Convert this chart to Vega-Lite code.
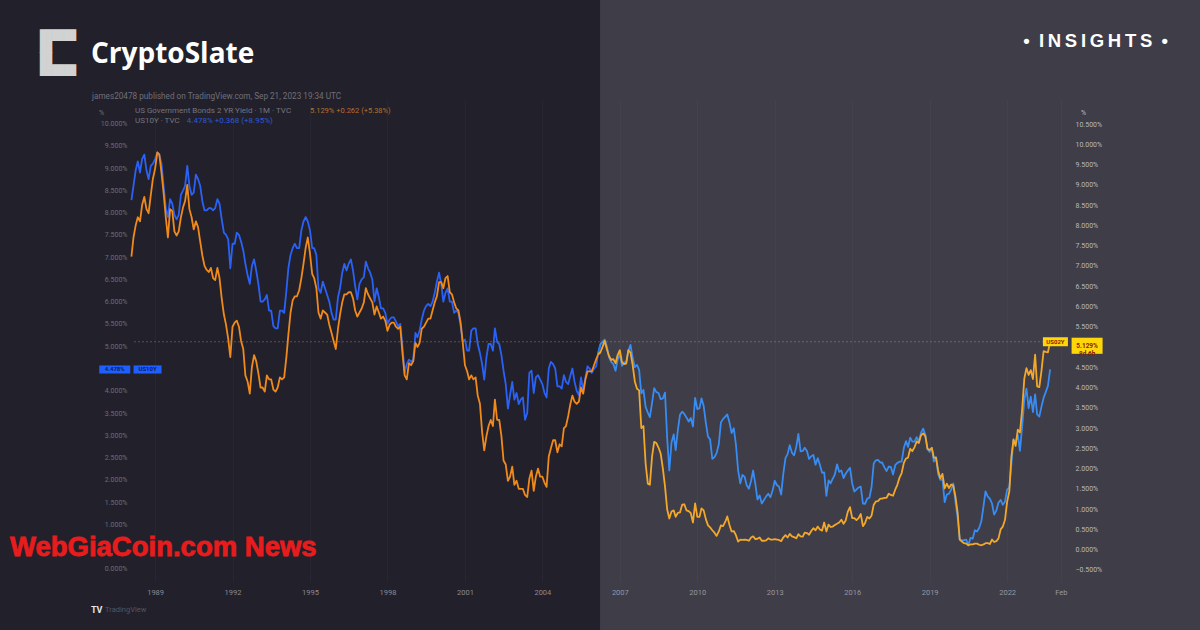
{
"$schema": "https://vega.github.io/schema/vega-lite/v6.json",
"width": 936, "height": 482,
"autosize": {"type": "none"},
"padding": {"left": 132, "top": 100, "right": 132, "bottom": 48},
"background": "#22212b",
"config": {"view": {"stroke": null}, "text": {"font": "Roboto"}},
"data": {"values": [
{"m":"1988-02-01","y10":8.28,"y2":7.23},{"m":"1988-03-01","y10":8.6,"y2":7.7},{"m":"1988-04-01","y10":8.95,"y2":8.0},{"m":"1988-05-01","y10":9.15,"y2":8.2},{"m":"1988-06-01","y10":8.9,"y2":8.1},{"m":"1988-07-01","y10":9.2,"y2":8.5},{"m":"1988-08-01","y10":9.3,"y2":8.7},{"m":"1988-09-01","y10":8.95,"y2":8.4},{"m":"1988-10-01","y10":8.75,"y2":8.3},{"m":"1988-11-01","y10":9.05,"y2":8.75},{"m":"1988-12-01","y10":9.1,"y2":9.15},
{"m":"1989-01-01","y10":9.2,"y2":9.4},{"m":"1989-02-01","y10":9.35,"y2":9.8},{"m":"1989-03-01","y10":9.3,"y2":9.75},{"m":"1989-04-01","y10":9.1,"y2":9.3},{"m":"1989-05-01","y10":8.6,"y2":8.8},{"m":"1989-06-01","y10":8.1,"y2":8.2},{"m":"1989-07-01","y10":7.9,"y2":7.7},{"m":"1989-08-01","y10":8.3,"y2":8.4},{"m":"1989-09-01","y10":8.2,"y2":8.35},{"m":"1989-10-01","y10":7.95,"y2":7.85},{"m":"1989-11-01","y10":7.85,"y2":7.75},{"m":"1989-12-01","y10":7.95,"y2":7.85},
{"m":"1990-01-01","y10":8.4,"y2":8.2},{"m":"1990-02-01","y10":8.5,"y2":8.45},{"m":"1990-03-01","y10":8.6,"y2":8.6},{"m":"1990-04-01","y10":9.05,"y2":9.0},{"m":"1990-05-01","y10":8.6,"y2":8.4},{"m":"1990-06-01","y10":8.4,"y2":8.2},{"m":"1990-07-01","y10":8.45,"y2":7.9},{"m":"1990-08-01","y10":8.85,"y2":8.1},{"m":"1990-09-01","y10":8.75,"y2":7.95},{"m":"1990-10-01","y10":8.6,"y2":7.6},{"m":"1990-11-01","y10":8.25,"y2":7.25},{"m":"1990-12-01","y10":8.05,"y2":7.0},
{"m":"1991-01-01","y10":8.05,"y2":6.9},{"m":"1991-02-01","y10":8.1,"y2":6.85},{"m":"1991-03-01","y10":8.1,"y2":6.95},{"m":"1991-04-01","y10":8.05,"y2":6.7},{"m":"1991-05-01","y10":8.1,"y2":6.65},{"m":"1991-06-01","y10":8.3,"y2":6.95},{"m":"1991-07-01","y10":8.2,"y2":6.7},{"m":"1991-08-01","y10":7.85,"y2":6.2},{"m":"1991-09-01","y10":7.55,"y2":5.8},{"m":"1991-10-01","y10":7.5,"y2":5.55},{"m":"1991-11-01","y10":7.4,"y2":5.2},{"m":"1991-12-01","y10":6.75,"y2":4.75},
{"m":"1992-01-01","y10":7.3,"y2":5.5},{"m":"1992-02-01","y10":7.3,"y2":5.6},{"m":"1992-03-01","y10":7.55,"y2":5.65},{"m":"1992-04-01","y10":7.5,"y2":5.5},{"m":"1992-05-01","y10":7.35,"y2":5.15},{"m":"1992-06-01","y10":7.15,"y2":4.95},{"m":"1992-07-01","y10":6.85,"y2":4.3},{"m":"1992-08-01","y10":6.6,"y2":4.15},{"m":"1992-09-01","y10":6.4,"y2":3.85},{"m":"1992-10-01","y10":6.8,"y2":4.5},{"m":"1992-11-01","y10":6.95,"y2":4.8},{"m":"1992-12-01","y10":6.7,"y2":4.65},
{"m":"1993-01-01","y10":6.4,"y2":4.35},{"m":"1993-02-01","y10":6.0,"y2":4.0},{"m":"1993-03-01","y10":6.0,"y2":4.0},{"m":"1993-04-01","y10":6.05,"y2":3.9},{"m":"1993-05-01","y10":6.15,"y2":4.3},{"m":"1993-06-01","y10":5.8,"y2":4.2},{"m":"1993-07-01","y10":5.8,"y2":4.2},{"m":"1993-08-01","y10":5.45,"y2":3.95},{"m":"1993-09-01","y10":5.4,"y2":3.9},{"m":"1993-10-01","y10":5.4,"y2":4.0},{"m":"1993-11-01","y10":5.8,"y2":4.25},{"m":"1993-12-01","y10":5.8,"y2":4.2},
{"m":"1994-01-01","y10":5.75,"y2":4.25},{"m":"1994-02-01","y10":6.25,"y2":4.75},{"m":"1994-03-01","y10":6.75,"y2":5.3},{"m":"1994-04-01","y10":7.05,"y2":5.85},{"m":"1994-05-01","y10":7.2,"y2":6.15},{"m":"1994-06-01","y10":7.3,"y2":6.25},{"m":"1994-07-01","y10":7.2,"y2":6.25},{"m":"1994-08-01","y10":7.2,"y2":6.4},{"m":"1994-09-01","y10":7.6,"y2":6.7},{"m":"1994-10-01","y10":7.8,"y2":7.05},{"m":"1994-11-01","y10":7.9,"y2":7.45},{"m":"1994-12-01","y10":7.8,"y2":7.7},
{"m":"1995-01-01","y10":7.6,"y2":7.3},{"m":"1995-02-01","y10":7.2,"y2":6.8},{"m":"1995-03-01","y10":7.2,"y2":6.7},{"m":"1995-04-01","y10":7.05,"y2":6.45},{"m":"1995-05-01","y10":6.3,"y2":5.85},{"m":"1995-06-01","y10":6.2,"y2":5.7},{"m":"1995-07-01","y10":6.45,"y2":5.9},{"m":"1995-08-01","y10":6.3,"y2":5.85},{"m":"1995-09-01","y10":6.15,"y2":5.8},{"m":"1995-10-01","y10":6.0,"y2":5.55},{"m":"1995-11-01","y10":5.75,"y2":5.35},{"m":"1995-12-01","y10":5.6,"y2":5.15},
{"m":"1996-01-01","y10":5.6,"y2":4.95},{"m":"1996-02-01","y10":6.1,"y2":5.45},{"m":"1996-03-01","y10":6.3,"y2":5.8},{"m":"1996-04-01","y10":6.65,"y2":6.1},{"m":"1996-05-01","y10":6.85,"y2":6.3},{"m":"1996-06-01","y10":6.7,"y2":6.3},{"m":"1996-07-01","y10":6.85,"y2":6.35},{"m":"1996-08-01","y10":6.95,"y2":6.35},{"m":"1996-09-01","y10":6.7,"y2":6.2},{"m":"1996-10-01","y10":6.35,"y2":5.9},{"m":"1996-11-01","y10":6.05,"y2":5.75},{"m":"1996-12-01","y10":6.4,"y2":5.85},
{"m":"1997-01-01","y10":6.5,"y2":5.95},{"m":"1997-02-01","y10":6.55,"y2":6.1},{"m":"1997-03-01","y10":6.9,"y2":6.45},{"m":"1997-04-01","y10":6.75,"y2":6.3},{"m":"1997-05-01","y10":6.65,"y2":6.2},{"m":"1997-06-01","y10":6.5,"y2":6.1},{"m":"1997-07-01","y10":6.0,"y2":5.8},{"m":"1997-08-01","y10":6.3,"y2":6.0},{"m":"1997-09-01","y10":6.1,"y2":5.85},{"m":"1997-10-01","y10":5.85,"y2":5.7},{"m":"1997-11-01","y10":5.85,"y2":5.75},{"m":"1997-12-01","y10":5.75,"y2":5.65},
{"m":"1998-01-01","y10":5.5,"y2":5.4},{"m":"1998-02-01","y10":5.6,"y2":5.55},{"m":"1998-03-01","y10":5.65,"y2":5.6},{"m":"1998-04-01","y10":5.65,"y2":5.6},{"m":"1998-05-01","y10":5.55,"y2":5.5},{"m":"1998-06-01","y10":5.45,"y2":5.45},{"m":"1998-07-01","y10":5.5,"y2":5.5},{"m":"1998-08-01","y10":5.0,"y2":4.85},{"m":"1998-09-01","y10":4.4,"y2":4.3},{"m":"1998-10-01","y10":4.6,"y2":4.2},{"m":"1998-11-01","y10":4.7,"y2":4.6},{"m":"1998-12-01","y10":4.65,"y2":4.55},
{"m":"1999-01-01","y10":4.7,"y2":4.65},{"m":"1999-02-01","y10":5.3,"y2":5.1},{"m":"1999-03-01","y10":5.2,"y2":5.0},{"m":"1999-04-01","y10":5.35,"y2":5.1},{"m":"1999-05-01","y10":5.6,"y2":5.45},{"m":"1999-06-01","y10":5.8,"y2":5.5},{"m":"1999-07-01","y10":5.9,"y2":5.6},{"m":"1999-08-01","y10":5.95,"y2":5.7},{"m":"1999-09-01","y10":5.9,"y2":5.7},{"m":"1999-10-01","y10":6.0,"y2":5.9},{"m":"1999-11-01","y10":6.2,"y2":6.1},{"m":"1999-12-01","y10":6.45,"y2":6.25},
{"m":"2000-01-01","y10":6.65,"y2":6.6},{"m":"2000-02-01","y10":6.4,"y2":6.6},{"m":"2000-03-01","y10":6.0,"y2":6.45},{"m":"2000-04-01","y10":6.2,"y2":6.7},{"m":"2000-05-01","y10":6.3,"y2":6.75},{"m":"2000-06-01","y10":6.0,"y2":6.35},{"m":"2000-07-01","y10":6.0,"y2":6.3},{"m":"2000-08-01","y10":5.75,"y2":6.1},{"m":"2000-09-01","y10":5.8,"y2":5.95},{"m":"2000-10-01","y10":5.75,"y2":5.9},{"m":"2000-11-01","y10":5.45,"y2":5.6},{"m":"2000-12-01","y10":5.1,"y2":5.1},
{"m":"2001-01-01","y10":5.15,"y2":4.55},{"m":"2001-02-01","y10":4.9,"y2":4.4},{"m":"2001-03-01","y10":4.9,"y2":4.2},{"m":"2001-04-01","y10":5.35,"y2":4.3},{"m":"2001-05-01","y10":5.4,"y2":4.2},{"m":"2001-06-01","y10":5.4,"y2":4.25},{"m":"2001-07-01","y10":5.05,"y2":3.8},{"m":"2001-08-01","y10":4.85,"y2":3.6},{"m":"2001-09-01","y10":4.6,"y2":2.9},{"m":"2001-10-01","y10":4.25,"y2":2.45},{"m":"2001-11-01","y10":4.75,"y2":2.8},{"m":"2001-12-01","y10":5.05,"y2":3.05},
{"m":"2002-01-01","y10":5.05,"y2":3.2},{"m":"2002-02-01","y10":4.9,"y2":3.05},{"m":"2002-03-01","y10":5.4,"y2":3.7},{"m":"2002-04-01","y10":5.1,"y2":3.2},{"m":"2002-05-01","y10":5.05,"y2":3.2},{"m":"2002-06-01","y10":4.8,"y2":2.8},{"m":"2002-07-01","y10":4.45,"y2":2.2},{"m":"2002-08-01","y10":4.15,"y2":2.1},{"m":"2002-09-01","y10":3.6,"y2":1.7},{"m":"2002-10-01","y10":3.9,"y2":1.8},{"m":"2002-11-01","y10":4.2,"y2":2.05},{"m":"2002-12-01","y10":3.8,"y2":1.6},
{"m":"2003-01-01","y10":3.95,"y2":1.7},{"m":"2003-02-01","y10":3.7,"y2":1.5},{"m":"2003-03-01","y10":3.8,"y2":1.5},{"m":"2003-04-01","y10":3.85,"y2":1.5},{"m":"2003-05-01","y10":3.35,"y2":1.35},{"m":"2003-06-01","y10":3.5,"y2":1.3},{"m":"2003-07-01","y10":4.4,"y2":1.75},{"m":"2003-08-01","y10":4.45,"y2":1.95},{"m":"2003-09-01","y10":3.95,"y2":1.45},{"m":"2003-10-01","y10":4.3,"y2":1.8},{"m":"2003-11-01","y10":4.35,"y2":2.0},{"m":"2003-12-01","y10":4.25,"y2":1.8},
{"m":"2004-01-01","y10":4.15,"y2":1.8},{"m":"2004-02-01","y10":3.95,"y2":1.65},{"m":"2004-03-01","y10":3.85,"y2":1.55},{"m":"2004-04-01","y10":4.5,"y2":2.3},{"m":"2004-05-01","y10":4.65,"y2":2.5},{"m":"2004-06-01","y10":4.6,"y2":2.7},{"m":"2004-07-01","y10":4.5,"y2":2.7},{"m":"2004-08-01","y10":4.1,"y2":2.4},{"m":"2004-09-01","y10":4.1,"y2":2.6},{"m":"2004-10-01","y10":4.05,"y2":2.55},{"m":"2004-11-01","y10":4.35,"y2":3.0},{"m":"2004-12-01","y10":4.2,"y2":3.05},
{"m":"2005-01-01","y10":4.15,"y2":3.3},{"m":"2005-02-01","y10":4.35,"y2":3.6},{"m":"2005-03-01","y10":4.5,"y2":3.8},{"m":"2005-04-01","y10":4.2,"y2":3.65},{"m":"2005-05-01","y10":4.0,"y2":3.6},{"m":"2005-06-01","y10":3.9,"y2":3.65},{"m":"2005-07-01","y10":4.3,"y2":4.0},{"m":"2005-08-01","y10":4.0,"y2":3.85},{"m":"2005-09-01","y10":4.3,"y2":4.2},{"m":"2005-10-01","y10":4.55,"y2":4.4},{"m":"2005-11-01","y10":4.5,"y2":4.4},{"m":"2005-12-01","y10":4.4,"y2":4.4},
{"m":"2006-01-01","y10":4.5,"y2":4.55},{"m":"2006-02-01","y10":4.55,"y2":4.7},{"m":"2006-03-01","y10":4.85,"y2":4.82},{"m":"2006-04-01","y10":5.05,"y2":4.87},{"m":"2006-05-01","y10":5.1,"y2":5.0},{"m":"2006-06-01","y10":5.15,"y2":5.15},{"m":"2006-07-01","y10":5.0,"y2":4.95},{"m":"2006-08-01","y10":4.75,"y2":4.78},{"m":"2006-09-01","y10":4.65,"y2":4.68},{"m":"2006-10-01","y10":4.6,"y2":4.7},{"m":"2006-11-01","y10":4.45,"y2":4.6},{"m":"2006-12-01","y10":4.7,"y2":4.8},
{"m":"2007-01-01","y10":4.82,"y2":4.92},{"m":"2007-02-01","y10":4.56,"y2":4.62},{"m":"2007-03-01","y10":4.64,"y2":4.58},{"m":"2007-04-01","y10":4.63,"y2":4.59},{"m":"2007-05-01","y10":4.89,"y2":4.92},{"m":"2007-06-01","y10":5.03,"y2":4.86},{"m":"2007-07-01","y10":4.74,"y2":4.56},{"m":"2007-08-01","y10":4.53,"y2":4.15},{"m":"2007-09-01","y10":4.58,"y2":3.97},{"m":"2007-10-01","y10":4.47,"y2":3.93},{"m":"2007-11-01","y10":3.94,"y2":3.0},{"m":"2007-12-01","y10":4.02,"y2":3.05},
{"m":"2008-01-01","y10":3.64,"y2":2.12},{"m":"2008-02-01","y10":3.51,"y2":1.63},{"m":"2008-03-01","y10":3.41,"y2":1.6},{"m":"2008-04-01","y10":3.73,"y2":2.3},{"m":"2008-05-01","y10":4.06,"y2":2.66},{"m":"2008-06-01","y10":3.97,"y2":2.63},{"m":"2008-07-01","y10":3.95,"y2":2.52},{"m":"2008-08-01","y10":3.81,"y2":2.37},{"m":"2008-09-01","y10":3.83,"y2":2.0},{"m":"2008-10-01","y10":3.96,"y2":1.56},{"m":"2008-11-01","y10":2.93,"y2":0.99},{"m":"2008-12-01","y10":2.21,"y2":0.77},
{"m":"2009-01-01","y10":2.84,"y2":0.94},{"m":"2009-02-01","y10":3.02,"y2":0.97},{"m":"2009-03-01","y10":2.67,"y2":0.81},{"m":"2009-04-01","y10":3.12,"y2":0.91},{"m":"2009-05-01","y10":3.46,"y2":0.92},{"m":"2009-06-01","y10":3.53,"y2":1.11},{"m":"2009-07-01","y10":3.48,"y2":1.12},{"m":"2009-08-01","y10":3.4,"y2":0.97},{"m":"2009-09-01","y10":3.31,"y2":0.95},{"m":"2009-10-01","y10":3.39,"y2":0.9},{"m":"2009-11-01","y10":3.2,"y2":0.67},{"m":"2009-12-01","y10":3.84,"y2":1.14},
{"m":"2010-01-01","y10":3.59,"y2":0.81},{"m":"2010-02-01","y10":3.61,"y2":0.81},{"m":"2010-03-01","y10":3.83,"y2":1.02},{"m":"2010-04-01","y10":3.66,"y2":0.97},{"m":"2010-05-01","y10":3.29,"y2":0.76},{"m":"2010-06-01","y10":2.97,"y2":0.6},{"m":"2010-07-01","y10":2.91,"y2":0.55},{"m":"2010-08-01","y10":2.47,"y2":0.48},{"m":"2010-09-01","y10":2.51,"y2":0.42},{"m":"2010-10-01","y10":2.6,"y2":0.34},{"m":"2010-11-01","y10":2.8,"y2":0.45},{"m":"2010-12-01","y10":3.29,"y2":0.6},
{"m":"2011-01-01","y10":3.37,"y2":0.58},{"m":"2011-02-01","y10":3.42,"y2":0.69},{"m":"2011-03-01","y10":3.47,"y2":0.82},{"m":"2011-04-01","y10":3.29,"y2":0.61},{"m":"2011-05-01","y10":3.05,"y2":0.45},{"m":"2011-06-01","y10":3.16,"y2":0.46},{"m":"2011-07-01","y10":2.8,"y2":0.36},{"m":"2011-08-01","y10":2.22,"y2":0.2},{"m":"2011-09-01","y10":1.92,"y2":0.25},{"m":"2011-10-01","y10":2.11,"y2":0.24},{"m":"2011-11-01","y10":2.07,"y2":0.25},{"m":"2011-12-01","y10":1.88,"y2":0.24},
{"m":"2012-01-01","y10":1.8,"y2":0.22},{"m":"2012-02-01","y10":1.98,"y2":0.3},{"m":"2012-03-01","y10":2.21,"y2":0.33},{"m":"2012-04-01","y10":1.91,"y2":0.26},{"m":"2012-05-01","y10":1.56,"y2":0.27},{"m":"2012-06-01","y10":1.65,"y2":0.3},{"m":"2012-07-01","y10":1.47,"y2":0.22},{"m":"2012-08-01","y10":1.55,"y2":0.22},{"m":"2012-09-01","y10":1.63,"y2":0.23},{"m":"2012-10-01","y10":1.69,"y2":0.28},{"m":"2012-11-01","y10":1.61,"y2":0.25},{"m":"2012-12-01","y10":1.76,"y2":0.25},
{"m":"2013-01-01","y10":1.98,"y2":0.26},{"m":"2013-02-01","y10":1.88,"y2":0.25},{"m":"2013-03-01","y10":1.85,"y2":0.24},{"m":"2013-04-01","y10":1.67,"y2":0.21},{"m":"2013-05-01","y10":2.13,"y2":0.3},{"m":"2013-06-01","y10":2.49,"y2":0.36},{"m":"2013-07-01","y10":2.58,"y2":0.3},{"m":"2013-08-01","y10":2.78,"y2":0.39},{"m":"2013-09-01","y10":2.61,"y2":0.33},{"m":"2013-10-01","y10":2.55,"y2":0.31},{"m":"2013-11-01","y10":2.74,"y2":0.28},{"m":"2013-12-01","y10":3.03,"y2":0.38},
{"m":"2014-01-01","y10":2.64,"y2":0.33},{"m":"2014-02-01","y10":2.65,"y2":0.32},{"m":"2014-03-01","y10":2.72,"y2":0.42},{"m":"2014-04-01","y10":2.65,"y2":0.41},{"m":"2014-05-01","y10":2.47,"y2":0.37},{"m":"2014-06-01","y10":2.53,"y2":0.46},{"m":"2014-07-01","y10":2.56,"y2":0.53},{"m":"2014-08-01","y10":2.34,"y2":0.48},{"m":"2014-09-01","y10":2.49,"y2":0.57},{"m":"2014-10-01","y10":2.34,"y2":0.5},{"m":"2014-11-01","y10":2.16,"y2":0.47},{"m":"2014-12-01","y10":2.17,"y2":0.67},
{"m":"2015-01-01","y10":1.64,"y2":0.45},{"m":"2015-02-01","y10":1.99,"y2":0.62},{"m":"2015-03-01","y10":1.92,"y2":0.56},{"m":"2015-04-01","y10":2.03,"y2":0.57},{"m":"2015-05-01","y10":2.12,"y2":0.61},{"m":"2015-06-01","y10":2.35,"y2":0.64},{"m":"2015-07-01","y10":2.18,"y2":0.67},{"m":"2015-08-01","y10":2.21,"y2":0.74},{"m":"2015-09-01","y10":2.04,"y2":0.64},{"m":"2015-10-01","y10":2.14,"y2":0.72},{"m":"2015-11-01","y10":2.21,"y2":0.94},{"m":"2015-12-01","y10":2.27,"y2":1.05},
{"m":"2016-01-01","y10":1.92,"y2":0.78},{"m":"2016-02-01","y10":1.74,"y2":0.78},{"m":"2016-03-01","y10":1.78,"y2":0.73},{"m":"2016-04-01","y10":1.83,"y2":0.78},{"m":"2016-05-01","y10":1.85,"y2":0.88},{"m":"2016-06-01","y10":1.47,"y2":0.58},{"m":"2016-07-01","y10":1.46,"y2":0.66},{"m":"2016-08-01","y10":1.58,"y2":0.81},{"m":"2016-09-01","y10":1.6,"y2":0.77},{"m":"2016-10-01","y10":1.84,"y2":0.84},{"m":"2016-11-01","y10":2.37,"y2":1.11},{"m":"2016-12-01","y10":2.44,"y2":1.19},
{"m":"2017-01-01","y10":2.45,"y2":1.2},{"m":"2017-02-01","y10":2.39,"y2":1.26},{"m":"2017-03-01","y10":2.39,"y2":1.26},{"m":"2017-04-01","y10":2.28,"y2":1.28},{"m":"2017-05-01","y10":2.2,"y2":1.28},{"m":"2017-06-01","y10":2.3,"y2":1.38},{"m":"2017-07-01","y10":2.29,"y2":1.35},{"m":"2017-08-01","y10":2.12,"y2":1.33},{"m":"2017-09-01","y10":2.33,"y2":1.48},{"m":"2017-10-01","y10":2.38,"y2":1.6},{"m":"2017-11-01","y10":2.41,"y2":1.78},{"m":"2017-12-01","y10":2.41,"y2":1.89},
{"m":"2018-01-01","y10":2.72,"y2":2.14},{"m":"2018-02-01","y10":2.87,"y2":2.25},{"m":"2018-03-01","y10":2.74,"y2":2.27},{"m":"2018-04-01","y10":2.95,"y2":2.49},{"m":"2018-05-01","y10":2.86,"y2":2.43},{"m":"2018-06-01","y10":2.86,"y2":2.53},{"m":"2018-07-01","y10":2.96,"y2":2.67},{"m":"2018-08-01","y10":2.86,"y2":2.63},{"m":"2018-09-01","y10":3.06,"y2":2.82},{"m":"2018-10-01","y10":3.15,"y2":2.87},{"m":"2018-11-01","y10":3.01,"y2":2.8},{"m":"2018-12-01","y10":2.69,"y2":2.49},
{"m":"2019-01-01","y10":2.63,"y2":2.46},{"m":"2019-02-01","y10":2.72,"y2":2.51},{"m":"2019-03-01","y10":2.41,"y2":2.27},{"m":"2019-04-01","y10":2.51,"y2":2.27},{"m":"2019-05-01","y10":2.13,"y2":1.95},{"m":"2019-06-01","y10":2.0,"y2":1.76},{"m":"2019-07-01","y10":2.02,"y2":1.87},{"m":"2019-08-01","y10":1.5,"y2":1.51},{"m":"2019-09-01","y10":1.67,"y2":1.63},{"m":"2019-10-01","y10":1.69,"y2":1.52},{"m":"2019-11-01","y10":1.78,"y2":1.61},{"m":"2019-12-01","y10":1.92,"y2":1.58},
{"m":"2020-01-01","y10":1.51,"y2":1.31},{"m":"2020-02-01","y10":1.15,"y2":0.91},{"m":"2020-03-01","y10":0.67,"y2":0.25},{"m":"2020-04-01","y10":0.64,"y2":0.2},{"m":"2020-05-01","y10":0.65,"y2":0.16},{"m":"2020-06-01","y10":0.66,"y2":0.15},{"m":"2020-07-01","y10":0.53,"y2":0.11},{"m":"2020-08-01","y10":0.7,"y2":0.13},{"m":"2020-09-01","y10":0.68,"y2":0.13},{"m":"2020-10-01","y10":0.87,"y2":0.15},{"m":"2020-11-01","y10":0.84,"y2":0.15},{"m":"2020-12-01","y10":0.92,"y2":0.12},
{"m":"2021-01-01","y10":1.07,"y2":0.11},{"m":"2021-02-01","y10":1.41,"y2":0.13},{"m":"2021-03-01","y10":1.74,"y2":0.16},{"m":"2021-04-01","y10":1.63,"y2":0.16},{"m":"2021-05-01","y10":1.58,"y2":0.14},{"m":"2021-06-01","y10":1.47,"y2":0.25},{"m":"2021-07-01","y10":1.22,"y2":0.19},{"m":"2021-08-01","y10":1.31,"y2":0.21},{"m":"2021-09-01","y10":1.49,"y2":0.28},{"m":"2021-10-01","y10":1.55,"y2":0.5},{"m":"2021-11-01","y10":1.44,"y2":0.57},{"m":"2021-12-01","y10":1.51,"y2":0.73},
{"m":"2022-01-01","y10":1.78,"y2":1.18},{"m":"2022-02-01","y10":1.83,"y2":1.44},{"m":"2022-03-01","y10":2.34,"y2":2.28},{"m":"2022-04-01","y10":2.89,"y2":2.72},{"m":"2022-05-01","y10":2.85,"y2":2.56},{"m":"2022-06-01","y10":3.01,"y2":2.96},{"m":"2022-07-01","y10":2.65,"y2":2.89},{"m":"2022-08-01","y10":3.19,"y2":3.45},{"m":"2022-09-01","y10":3.8,"y2":4.22},{"m":"2022-10-01","y10":4.05,"y2":4.48},{"m":"2022-11-01","y10":3.61,"y2":4.31},{"m":"2022-12-01","y10":3.87,"y2":4.43},
{"m":"2023-01-01","y10":3.52,"y2":4.21},{"m":"2023-02-01","y10":3.92,"y2":4.81},{"m":"2023-03-01","y10":3.47,"y2":4.03},{"m":"2023-04-01","y10":3.42,"y2":4.01},{"m":"2023-05-01","y10":3.64,"y2":4.4},{"m":"2023-06-01","y10":3.84,"y2":4.9},{"m":"2023-07-01","y10":3.97,"y2":4.88},{"m":"2023-08-01","y10":4.11,"y2":4.87},{"m":"2023-09-01","y10":4.478,"y2":5.129}
]},
"layer": [
{
"layer": [
{"transform": [{"filter": {"field": "m", "lte": {"year": 2006, "month": 4, "date": 1, "utc": true}}}],
 "mark": {"type": "line", "color": "#2a62f7", "strokeWidth": 1.8, "strokeJoin": "round"},
 "encoding": {
  "x": {"field": "m", "type": "temporal", "scale": {"type": "utc", "domain": [{"year": 1988, "month": 2, "date": 9, "utc": true}, {"year": 2024, "month": 5, "date": 11, "utc": true}]},
   "axis": {"values": [{"year": 1989, "month": 1, "date": 1, "utc": true}, {"year": 1992, "month": 1, "date": 1, "utc": true}, {"year": 1995, "month": 1, "date": 1, "utc": true}, {"year": 1998, "month": 1, "date": 1, "utc": true}, {"year": 2001, "month": 1, "date": 1, "utc": true}, {"year": 2004, "month": 1, "date": 1, "utc": true}, {"year": 2007, "month": 1, "date": 1, "utc": true}, {"year": 2010, "month": 1, "date": 1, "utc": true}, {"year": 2013, "month": 1, "date": 1, "utc": true}, {"year": 2016, "month": 1, "date": 1, "utc": true}, {"year": 2019, "month": 1, "date": 1, "utc": true}, {"year": 2022, "month": 1, "date": 1, "utc": true}, {"year": 2024, "month": 2, "date": 1, "utc": true}],
    "labelExpr": "utcmonth(datum.value) == 1 ? 'Feb' : utcFormat(datum.value, '%Y')", "tickCount": 40,
    "title": null, "domain": false, "ticks": false, "grid": true, "gridColor": "#ffffff", "gridOpacity": 0.03,
    "labelFont": "Roboto", "labelFontSize": 7.5, "labelPadding": 6, "labelFlush": false, "labelOverlap": false, "labelColor": "#8a8a95"}},
  "y": {"field": "y10", "type": "quantitative", "scale": {"domain": [-0.292, 10.527], "nice": false, "zero": false},
   "axis": {"orient": "left", "values": [0, 1, 1.5, 2, 2.5, 3, 3.5, 4, 5, 5.5, 6, 6.5, 7, 7.5, 8, 8.5, 9, 9.5, 10], "tickCount": 40,
    "labelExpr": "format(datum.value, '.3f') + '%'", "domain": false, "ticks": false, "grid": false, "labelOverlap": false, "labelFlush": false,
    "labelFont": "Roboto", "labelFontSize": 7, "labelColor": "#6d6d78", "labelPadding": 5,
    "title": "%", "titleAngle": 0, "titleX": -31, "titleY": 12, "titleFont": "Roboto", "titleFontSize": 7, "titleFontWeight": "normal", "titleColor": "#6d6d78", "titleAlign": "center", "titleBaseline": "middle"}}}},
{"transform": [{"filter": {"field": "m", "gte": {"year": 2006, "month": 3, "date": 1, "utc": true}}}],
 "mark": {"type": "line", "color": "#1c7df0", "strokeWidth": 1.8, "strokeJoin": "round"},
 "encoding": {
  "x": {"field": "m", "type": "temporal", "scale": {"type": "utc", "domain": [{"year": 1988, "month": 2, "date": 9, "utc": true}, {"year": 2024, "month": 5, "date": 11, "utc": true}]}},
  "y": {"field": "y10", "type": "quantitative", "scale": {"domain": [-0.292, 10.527], "nice": false, "zero": false}}}},
{"data": {"values": [{}]}, "mark": {"type": "point", "shape": "M-1,-0.26L1,-0.26L1,0.26L-1,0.26Z", "size": 961, "filled": true, "color": "#1f5fff", "opacity": 1},
 "encoding": {
  "x": {"datum": {"year": 1987, "month": 6, "date": 10, "utc": true}, "type": "temporal", "scale": {"type": "utc", "domain": [{"year": 1988, "month": 2, "date": 9, "utc": true}, {"year": 2024, "month": 5, "date": 11, "utc": true}]}},
  "y": {"datum": 4.478, "type": "quantitative", "scale": {"domain": [-0.292, 10.527], "nice": false, "zero": false}}}},
{"data": {"values": [{}]}, "mark": {"type": "point", "shape": "M-1,-0.29L1,-0.29L1,0.29L-1,0.29Z", "size": 784, "filled": true, "color": "#1f5fff", "opacity": 1},
 "encoding": {
  "x": {"datum": {"year": 1988, "month": 9, "date": 16, "utc": true}, "type": "temporal", "scale": {"type": "utc", "domain": [{"year": 1988, "month": 2, "date": 9, "utc": true}, {"year": 2024, "month": 5, "date": 11, "utc": true}]}},
  "y": {"datum": 4.478, "type": "quantitative", "scale": {"domain": [-0.292, 10.527], "nice": false, "zero": false}}}},
{"data": {"values": [{}]}, "mark": {"type": "text", "text": "4.478%", "font": "Roboto", "fontSize": 6, "fontWeight": "bold", "color": "#0b1d5c", "align": "center", "baseline": "middle"},
 "encoding": {
  "x": {"datum": {"year": 1987, "month": 6, "date": 10, "utc": true}, "type": "temporal", "scale": {"type": "utc", "domain": [{"year": 1988, "month": 2, "date": 9, "utc": true}, {"year": 2024, "month": 5, "date": 11, "utc": true}]}},
  "y": {"datum": 4.478, "type": "quantitative", "scale": {"domain": [-0.292, 10.527], "nice": false, "zero": false}}}},
{"data": {"values": [{}]}, "mark": {"type": "text", "text": "US10Y", "font": "Roboto", "fontSize": 6, "fontWeight": "bold", "color": "#0b1d5c", "align": "center", "baseline": "middle"},
 "encoding": {
  "x": {"datum": {"year": 1988, "month": 9, "date": 16, "utc": true}, "type": "temporal", "scale": {"type": "utc", "domain": [{"year": 1988, "month": 2, "date": 9, "utc": true}, {"year": 2024, "month": 5, "date": 11, "utc": true}]}},
  "y": {"datum": 4.478, "type": "quantitative", "scale": {"domain": [-0.292, 10.527], "nice": false, "zero": false}}}},
{"data": {"values": [{}]}, "mark": {"type": "text", "text": "CryptoSlate", "font": "Open Sans", "fontSize": 28, "fontWeight": "bold", "color": "#ffffff", "align": "left", "baseline": "alphabetic"},
 "encoding": {
  "x": {"datum": {"year": 1986, "month": 7, "date": 9, "utc": true}, "type": "temporal", "scale": {"type": "utc", "domain": [{"year": 1988, "month": 2, "date": 9, "utc": true}, {"year": 2024, "month": 5, "date": 11, "utc": true}]}},
  "y": {"datum": 11.358, "type": "quantitative", "scale": {"domain": [-0.292, 10.527], "nice": false, "zero": false}}}},
{"data": {"values": [{}]}, "mark": {"type": "text", "text": "james20478 published on TradingView.com, Sep 21, 2023 19:34 UTC", "font": "Roboto", "fontSize": 8.2, "color": "#6f6f7a", "align": "left", "baseline": "middle"},
 "encoding": {
  "x": {"datum": {"year": 1986, "month": 7, "date": 23, "utc": true}, "type": "temporal", "scale": {"type": "utc", "domain": [{"year": 1988, "month": 2, "date": 9, "utc": true}, {"year": 2024, "month": 5, "date": 11, "utc": true}]}},
  "y": {"datum": 10.595, "type": "quantitative", "scale": {"domain": [-0.292, 10.527], "nice": false, "zero": false}}}},
{"data": {"values": [{}]}, "mark": {"type": "text", "text": "US Government Bonds 2 YR Yield · 1M · TVC", "font": "Roboto", "fontSize": 8, "color": "#74747f", "align": "left", "baseline": "middle"},
 "encoding": {
  "x": {"datum": {"year": 1988, "month": 3, "date": 22, "utc": true}, "type": "temporal", "scale": {"type": "utc", "domain": [{"year": 1988, "month": 2, "date": 9, "utc": true}, {"year": 2024, "month": 5, "date": 11, "utc": true}]}},
  "y": {"datum": 10.27, "type": "quantitative", "scale": {"domain": [-0.292, 10.527], "nice": false, "zero": false}}}},
{"data": {"values": [{}]}, "mark": {"type": "text", "text": "5.129%  +0.262 (+5.38%)", "font": "Roboto", "fontSize": 7.5, "color": "#b5702c", "align": "left", "baseline": "middle"},
 "encoding": {
  "x": {"datum": {"year": 1995, "month": 1, "date": 1, "utc": true}, "type": "temporal", "scale": {"type": "utc", "domain": [{"year": 1988, "month": 2, "date": 9, "utc": true}, {"year": 2024, "month": 5, "date": 11, "utc": true}]}},
  "y": {"datum": 10.27, "type": "quantitative", "scale": {"domain": [-0.292, 10.527], "nice": false, "zero": false}}}},
{"data": {"values": [{}]}, "mark": {"type": "text", "text": "US10Y · TVC", "font": "Roboto", "fontSize": 8, "color": "#74747f", "align": "left", "baseline": "middle"},
 "encoding": {
  "x": {"datum": {"year": 1988, "month": 3, "date": 22, "utc": true}, "type": "temporal", "scale": {"type": "utc", "domain": [{"year": 1988, "month": 2, "date": 9, "utc": true}, {"year": 2024, "month": 5, "date": 11, "utc": true}]}},
  "y": {"datum": 10.05, "type": "quantitative", "scale": {"domain": [-0.292, 10.527], "nice": false, "zero": false}}}},
{"data": {"values": [{}]}, "mark": {"type": "text", "text": "4.478%  +0.368 (+8.95%)", "font": "Roboto", "fontSize": 8, "color": "#2e58dc", "align": "left", "baseline": "middle"},
 "encoding": {
  "x": {"datum": {"year": 1990, "month": 3, "date": 25, "utc": true}, "type": "temporal", "scale": {"type": "utc", "domain": [{"year": 1988, "month": 2, "date": 9, "utc": true}, {"year": 2024, "month": 5, "date": 11, "utc": true}]}},
  "y": {"datum": 10.05, "type": "quantitative", "scale": {"domain": [-0.292, 10.527], "nice": false, "zero": false}}}},
{"data": {"values": [{}]}, "mark": {"type": "text", "text": ["█▀▀", "█▄▄"], "font": "DejaVu Sans Mono", "fontSize": 20, "lineHeight": 22.5, "color": "#d2d2d2", "align": "left", "baseline": "middle"},
 "encoding": {
  "x": {"datum": {"year": 1984, "month": 7, "date": 18, "utc": true}, "type": "temporal", "scale": {"type": "utc", "domain": [{"year": 1988, "month": 2, "date": 9, "utc": true}, {"year": 2024, "month": 5, "date": 11, "utc": true}]}},
  "y": {"datum": 11.818, "type": "quantitative", "scale": {"domain": [-0.292, 10.527], "nice": false, "zero": false}}}},
{"data": {"values": [{}]}, "mark": {"type": "text", "text": "WebGiaCoin.com News", "font": "Liberation Sans", "fontSize": 27.5, "fontWeight": "bold", "color": "#e81c1c", "stroke": "#e81c1c", "strokeWidth": 0.8, "align": "left", "baseline": "middle"},
 "encoding": {
  "x": {"datum": {"year": 1983, "month": 5, "date": 20, "utc": true}, "type": "temporal", "scale": {"type": "utc", "domain": [{"year": 1988, "month": 2, "date": 9, "utc": true}, {"year": 2024, "month": 5, "date": 11, "utc": true}]}},
  "y": {"datum": 0.471, "type": "quantitative", "scale": {"domain": [-0.292, 10.527], "nice": false, "zero": false}}}},
{"data": {"values": [{}]}, "mark": {"type": "text", "text": "TV", "font": "Roboto", "fontSize": 9, "fontWeight": "bold", "color": "#e6e6e6", "align": "left", "baseline": "middle"},
 "encoding": {
  "x": {"datum": {"year": 1986, "month": 7, "date": 8, "utc": true}, "type": "temporal", "scale": {"type": "utc", "domain": [{"year": 1988, "month": 2, "date": 9, "utc": true}, {"year": 2024, "month": 5, "date": 11, "utc": true}]}},
  "y": {"datum": -0.92, "type": "quantitative", "scale": {"domain": [-0.292, 10.527], "nice": false, "zero": false}}}},
{"data": {"values": [{}]}, "mark": {"type": "text", "text": "TradingView", "font": "Roboto", "fontSize": 7.5, "color": "#55555f", "align": "left", "baseline": "middle"},
 "encoding": {
  "x": {"datum": {"year": 1987, "month": 1, "date": 24, "utc": true}, "type": "temporal", "scale": {"type": "utc", "domain": [{"year": 1988, "month": 2, "date": 9, "utc": true}, {"year": 2024, "month": 5, "date": 11, "utc": true}]}},
  "y": {"datum": -0.92, "type": "quantitative", "scale": {"domain": [-0.292, 10.527], "nice": false, "zero": false}}}}
]
},
{
"layer": [
{"transform": [{"filter": {"field": "m", "lte": {"year": 2006, "month": 4, "date": 1, "utc": true}}}],
 "mark": {"type": "line", "color": "#f08a1c", "strokeWidth": 1.8, "strokeJoin": "round"},
 "encoding": {
  "x": {"field": "m", "type": "temporal", "scale": {"type": "utc", "domain": [{"year": 1988, "month": 2, "date": 9, "utc": true}, {"year": 2024, "month": 5, "date": 11, "utc": true}]}},
  "y": {"field": "y2", "type": "quantitative", "scale": {"domain": [-0.797, 11.092], "nice": false, "zero": false},
   "axis": {"orient": "right", "values": [-0.5, 0, 0.5, 1, 1.5, 2, 2.5, 3, 3.5, 4, 4.5, 5.5, 6, 6.5, 7, 7.5, 8, 8.5, 9, 9.5, 10, 10.5], "tickCount": 40,
    "labelExpr": "format(datum.value, '.3f') + '%'", "domain": false, "ticks": false, "grid": false, "labelOverlap": false, "labelFlush": false,
    "labelFont": "Roboto", "labelFontSize": 7, "labelColor": "#b1b1ba", "labelPadding": 7,
    "title": "%", "titleAngle": 0, "titleX": 15, "titleY": 12, "titleFont": "Roboto", "titleFontSize": 7, "titleFontWeight": "normal", "titleColor": "#b1b1ba", "titleAlign": "center", "titleBaseline": "middle"}}}},
{"data": {"values": [{}]}, "mark": {"type": "rule", "color": "#b08a5a", "opacity": 0.45, "strokeDash": [2, 2], "strokeWidth": 1},
 "encoding": {
  "y": {"datum": 5.129, "type": "quantitative", "scale": {"domain": [-0.797, 11.092], "nice": false, "zero": false}}}},
{"transform": [{"filter": {"field": "m", "gte": {"year": 2006, "month": 3, "date": 1, "utc": true}}}],
 "mark": {"type": "line", "color": "#f69e07", "strokeWidth": 1.8, "strokeJoin": "round"},
 "encoding": {
  "x": {"field": "m", "type": "temporal", "scale": {"type": "utc", "domain": [{"year": 1988, "month": 2, "date": 9, "utc": true}, {"year": 2024, "month": 5, "date": 11, "utc": true}]}},
  "y": {"field": "y2", "type": "quantitative", "scale": {"domain": [-0.797, 11.092], "nice": false, "zero": false}}}},
{"data": {"values": [{}]}, "mark": {"type": "rect", "color": "#ececff", "opacity": 0.142},
 "encoding": {
  "x": {"datum": {"year": 2006, "month": 3, "date": 27, "utc": true}, "type": "temporal", "scale": {"type": "utc", "domain": [{"year": 1988, "month": 2, "date": 9, "utc": true}, {"year": 2024, "month": 5, "date": 11, "utc": true}]}},
  "x2": {"datum": {"year": 2030, "month": 6, "date": 1, "utc": true}},
  "y": {"datum": -2.3, "type": "quantitative", "scale": {"domain": [-0.797, 11.092], "nice": false, "zero": false}},
  "y2": {"datum": 13.9}}},
{"data": {"values": [{}]}, "mark": {"type": "text", "text": "•\u2002I\u2009N\u2009S\u2009I\u2009G\u2009H\u2009T\u2009S\u2002•", "font": "Liberation Sans", "fontSize": 18.5, "fontWeight": "bold", "color": "#ffffff", "align": "right", "baseline": "middle"},
 "encoding": {
  "x": {"datum": {"year": 2028, "month": 3, "date": 25, "utc": true}, "type": "temporal", "scale": {"type": "utc", "domain": [{"year": 1988, "month": 2, "date": 9, "utc": true}, {"year": 2024, "month": 5, "date": 11, "utc": true}]}},
  "y": {"datum": 12.547, "type": "quantitative", "scale": {"domain": [-0.797, 11.092], "nice": false, "zero": false}}}},
{"data": {"values": [{}]}, "mark": {"type": "point", "shape": "M-1,-0.36L1,-0.36L1,0.36L-1,0.36Z", "size": 625, "filled": true, "color": "#ffd60a", "opacity": 1},
 "encoding": {
  "x": {"datum": {"year": 2023, "month": 11, "date": 15, "utc": true}, "type": "temporal", "scale": {"type": "utc", "domain": [{"year": 1988, "month": 2, "date": 9, "utc": true}, {"year": 2024, "month": 5, "date": 11, "utc": true}]}},
  "y": {"datum": 5.129, "type": "quantitative", "scale": {"domain": [-0.797, 11.092], "nice": false, "zero": false}}}},
{"data": {"values": [{}]}, "mark": {"type": "point", "shape": "M-1,-0.52L1,-0.52L1,0.52L-1,0.52Z", "size": 961, "filled": true, "color": "#ffd60a", "opacity": 1},
 "encoding": {
  "x": {"datum": {"year": 2025, "month": 2, "date": 5, "utc": true}, "type": "temporal", "scale": {"type": "utc", "domain": [{"year": 1988, "month": 2, "date": 9, "utc": true}, {"year": 2024, "month": 5, "date": 11, "utc": true}]}},
  "y": {"datum": 5.03, "type": "quantitative", "scale": {"domain": [-0.797, 11.092], "nice": false, "zero": false}}}},
{"data": {"values": [{}]}, "mark": {"type": "text", "text": "US02Y", "font": "Roboto", "fontSize": 6, "fontWeight": "bold", "color": "#8a1e00", "align": "center", "baseline": "middle"},
 "encoding": {
  "x": {"datum": {"year": 2023, "month": 11, "date": 15, "utc": true}, "type": "temporal", "scale": {"type": "utc", "domain": [{"year": 1988, "month": 2, "date": 9, "utc": true}, {"year": 2024, "month": 5, "date": 11, "utc": true}]}},
  "y": {"datum": 5.129, "type": "quantitative", "scale": {"domain": [-0.797, 11.092], "nice": false, "zero": false}}}},
{"data": {"values": [{}]}, "mark": {"type": "text", "text": ["5.129%", "8d 6h"], "font": "Roboto", "fontSize": 6.5, "fontWeight": "bold", "lineHeight": 8, "color": "#8a1e00", "align": "center", "baseline": "middle"},
 "encoding": {
  "x": {"datum": {"year": 2025, "month": 2, "date": 5, "utc": true}, "type": "temporal", "scale": {"type": "utc", "domain": [{"year": 1988, "month": 2, "date": 9, "utc": true}, {"year": 2024, "month": 5, "date": 11, "utc": true}]}},
  "y": {"datum": 5.03, "type": "quantitative", "scale": {"domain": [-0.797, 11.092], "nice": false, "zero": false}}}}
]
}
],
"resolve": {"scale": {"y": "independent"}}
}
